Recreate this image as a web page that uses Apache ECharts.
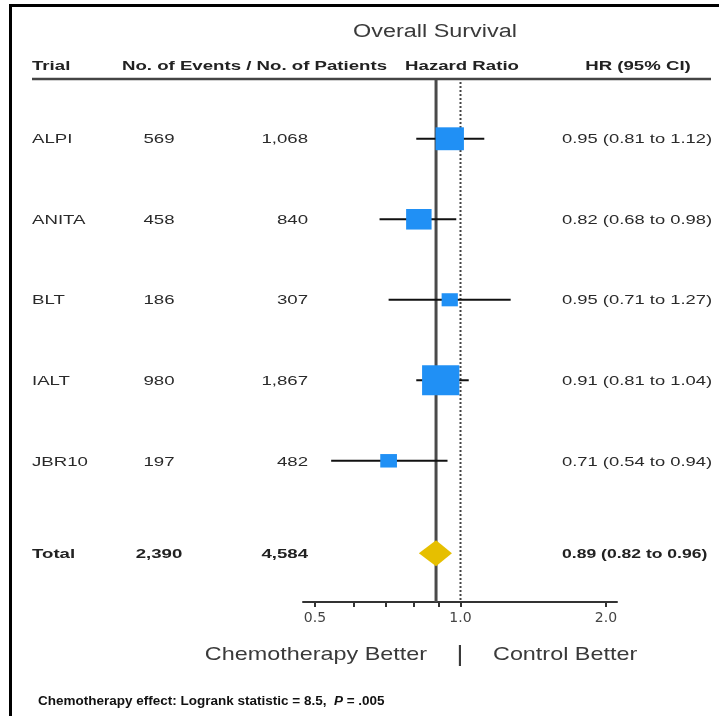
<!DOCTYPE html>
<html>
<head>
<meta charset="utf-8">
<script src="https://cdn.jsdelivr.net/npm/echarts@6/dist/echarts.min.js"></script>
<style>
html, body { margin: 0; padding: 0; background: #fff; }
#chart { width: 719px; height: 716px; }
</style>
</head>
<body>
<div id="chart"></div>
<script>
// table data
var trials = ['ALPI', 'ANITA', 'BLT', 'IALT', 'JBR10'];
var events = [569, 458, 186, 980, 197];
var patients = [1068, 840, 307, 1867, 482];
var hazard = [0.95, 0.82, 0.95, 0.91, 0.71];
var ciLow = [0.81, 0.68, 0.71, 0.81, 0.54];
var ciHigh = [1.12, 0.98, 1.27, 1.04, 0.94];

var totalName = 'Total';
var totalEvents = 2390;
var totalPatients = 4584;
var totalHr = 0.89;
var totalLow = 0.82;
var totalHigh = 0.96;

var tickValues = [0.5, 0.6, 0.7, 0.8, 0.9, 1.0, 2.0];
var tickLabels = [0.5, 1.0, 2.0];

var log2 = function (v) { return Math.log(v) / Math.LN2; };
var fmt = function (n) { return n.toLocaleString('en-US'); };
var ciText = function (h, l, u) {
    return h.toFixed(2) + ' (' + l.toFixed(2) + ' to ' + u.toFixed(2) + ')';
};

var FONT = "'Liberation Sans', Arial, sans-serif";
var totalPos = trials.length + 0.15;

var myChart = echarts.init(document.getElementById('chart'));

var trialData = trials.map(function (t, i) {
    return [log2(hazard[i]), i, log2(ciLow[i]), log2(ciHigh[i]), events[i]];
});

var option = {
    backgroundColor: '#fff',
    animation: false,
    grid: { left: 303, right: 102, top: 80, bottom: 114 },
    xAxis: {
        type: 'value',
        min: -1.0825,
        max: 1.0756,
        axisLine: { onZero: false, lineStyle: { color: '#333', width: 2 } },
        axisTick: {
            customValues: tickValues.map(log2),
            length: 5,
            lineStyle: { color: '#333', width: 2 }
        },
        axisLabel: {
            customValues: tickLabels.map(log2),
            formatter: function (v) { return Math.pow(2, v).toFixed(1); },
            color: '#444',
            fontSize: 14,
            fontFamily: "'DejaVu Sans', sans-serif",
            margin: 9
        },
        splitLine: { show: false }
    },
    yAxis: {
        type: 'value',
        inverse: true,
        min: -0.73,
        max: 5.754,
        show: false
    },
    series: [
        {
            // reference lines: overall HR (solid) and no effect (dotted)
            type: 'custom',
            z: 1,
            data: [[log2(totalHr), 0], [0, 1]],
            encode: { x: 0 },
            renderItem: function (params, api) {
                var cs = params.coordSys;
                var x = api.coord([api.value(0), 0])[0];
                var dotted = api.value(1) === 1;
                return {
                    type: 'line',
                    shape: { x1: x, y1: cs.y + (dotted ? 2 : 0), x2: x, y2: cs.y + cs.height },
                    style: dotted
                        ? { stroke: '#444', lineWidth: 2, lineDash: [2, 2] }
                        : { stroke: '#4a4a4a', lineWidth: 3 }
                };
            }
        },
        {
            type: 'custom',
            z: 2,
            data: trialData,
            encode: { x: [0, 2, 3], y: 1 },
            renderItem: function (params, api) {
                var c = api.coord([api.value(0), api.value(1)]);
                var lo = api.coord([api.value(2), api.value(1)])[0];
                var hi = api.coord([api.value(3), api.value(1)])[0];
                var s = Math.sqrt(api.value(4));
                var w = s * 1.19, h = s * 0.96;
                return {
                    type: 'group',
                    children: [
                        { type: 'line', shape: { x1: lo, y1: c[1], x2: hi, y2: c[1] },
                          style: { stroke: '#111', lineWidth: 2 } },
                        { type: 'rect', shape: { x: c[0] - w / 2, y: c[1] - h / 2, width: w, height: h },
                          style: { fill: '#2090f5' } }
                    ]
                };
            }
        },
        {
            type: 'custom',
            z: 3,
            data: [[log2(totalHr), totalPos, log2(totalLow), log2(totalHigh)]],
            encode: { x: [0, 2, 3], y: 1 },
            renderItem: function (params, api) {
                var c = api.coord([api.value(0), api.value(1)]);
                var lo = api.coord([api.value(2), api.value(1)])[0];
                var hi = api.coord([api.value(3), api.value(1)])[0];
                var h = 13;
                return {
                    type: 'polygon',
                    shape: { points: [[lo, c[1]], [c[0], c[1] - h], [hi, c[1]], [c[0], c[1] + h]] },
                    style: { fill: '#e6bf00' }
                };
            }
        }
    ]
};
myChart.setOption(option);

// table text, placed on the rows of the y axis
function txt(x, y, s, o) {
    o = o || {};
    return {
        type: 'text', x: x, y: y, scaleX: o.sx || 1.38, silent: true,
        style: {
            text: s, fontSize: o.size || 13.5, fontFamily: FONT,
            fontWeight: o.bold ? 'bold' : 'normal', fill: o.color || '#2a2a2a',
            align: o.align || 'left', verticalAlign: 'middle',
            textAlign: o.align || 'left', textVerticalAlign: 'middle',
            rich: o.rich
        }
    };
}

var g = [];
g.push({ type: 'rect', silent: true, shape: { x: 10.5, y: 5.5, width: 760, height: 760 },
         style: { fill: 'none', stroke: '#000', lineWidth: 3 } });
g.push(txt(435, 32, 'Overall Survival', { size: 18, sx: 1.3, color: '#3a3a3a', align: 'center' }));
g.push(txt(32, 66, 'Trial', { bold: true, color: '#222' }));
g.push(txt(122, 66, 'No. of Events / No. of Patients', { bold: true, color: '#222' }));
g.push(txt(462, 66, 'Hazard Ratio', { bold: true, color: '#222', align: 'center' }));
g.push(txt(638, 66, 'HR (95% CI)', { bold: true, color: '#222', align: 'center' }));
g.push({ type: 'line', silent: true, shape: { x1: 32, y1: 79, x2: 711, y2: 79 },
         style: { stroke: '#444', lineWidth: 2.5 } });

trials.forEach(function (t, i) {
    var y = myChart.convertToPixel({ yAxisIndex: 0 }, i) + 1;
    g.push(txt(32, y, t));
    g.push(txt(159, y, fmt(events[i]), { align: 'center' }));
    g.push(txt(308, y, fmt(patients[i]), { align: 'right' }));
    g.push(txt(562, y, ciText(hazard[i], ciLow[i], ciHigh[i]), { sx: 1.36 }));
});
var ty = myChart.convertToPixel({ yAxisIndex: 0 }, totalPos) + 1;
g.push(txt(32, ty, totalName, { bold: true, color: '#222' }));
g.push(txt(159, ty, fmt(totalEvents), { bold: true, color: '#222', align: 'center' }));
g.push(txt(308, ty, fmt(totalPatients), { bold: true, color: '#222', align: 'right' }));
g.push(txt(562, ty, ciText(totalHr, totalLow, totalHigh), { bold: true, color: '#222', sx: 1.3 }));

g.push(txt(427, 655, 'Chemotherapy Better', { size: 19, sx: 1.23, color: '#3a3a3a', align: 'right' }));
g.push(txt(460, 655, '|', { size: 22, sx: 1.2, color: '#3a3a3a', align: 'center' }));
g.push(txt(493, 655, 'Control Better', { size: 19, sx: 1.23, color: '#3a3a3a' }));

g.push(txt(38, 702, '{b|Chemotherapy effect: Logrank statistic = 8.5,  }{i|P}{b| = .005}', {
    size: 12.5, sx: 1.08, bold: true, color: '#111',
    rich: {
        b: { fontSize: 12.5, fontWeight: 'bold', fontFamily: FONT, fill: '#111' },
        i: { fontSize: 12.5, fontWeight: 'bold', fontStyle: 'italic', fontFamily: FONT, fill: '#111' }
    }
}));

myChart.setOption({ graphic: g });
</script>
</body>
</html>
